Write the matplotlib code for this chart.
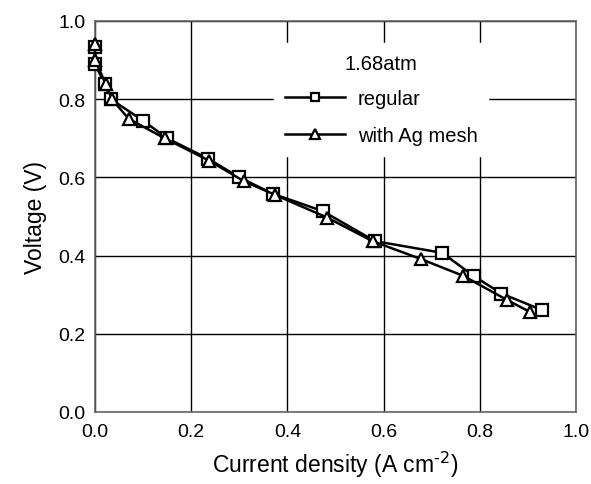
import numpy as np
import matplotlib.pyplot as plt

plt.rcParams['font.family'] = ['Liberation Sans', 'DejaVu Sans']

# regular
x_reg = [0.0, 0.0, 0.02, 0.033, 0.1, 0.15, 0.235, 0.30, 0.37, 0.473, 0.582, 0.722, 0.787, 0.845, 0.929]
y_reg = [0.934, 0.89, 0.84, 0.80, 0.745, 0.70, 0.648, 0.60, 0.558, 0.514, 0.437, 0.407, 0.348, 0.303, 0.261]

# with Ag mesh
x_ag = [0.0, 0.0, 0.022, 0.035, 0.07, 0.145, 0.237, 0.31, 0.375, 0.483, 0.577, 0.678, 0.766, 0.856, 0.904]
y_ag = [0.942, 0.90, 0.84, 0.80, 0.75, 0.70, 0.643, 0.59, 0.555, 0.497, 0.437, 0.391, 0.348, 0.287, 0.256]

ticks = [0.0, 0.2, 0.4, 0.6, 0.8, 1.0]

fig = plt.figure(figsize=(5.91, 4.85), dpi=100)
ax = fig.add_axes([95/591, (485-413)/485, 481/591, 391/485])

ax.plot(x_reg, y_reg, color='black', lw=1.8, marker='s', ms=8, mfc='white', mec='black', mew=1.6,
        label='regular', clip_on=False, zorder=3)
ax.plot(x_ag, y_ag, color='black', lw=1.8, marker='^', ms=9, mfc='white', mec='black', mew=1.6,
        label='with Ag mesh', clip_on=False, zorder=3)

ax.set_xlim(0, 1.0)
ax.set_ylim(0, 1.0)
ax.set_xticks(ticks)
ax.set_yticks(ticks)
ax.set_xticklabels(['%.1f' % v for v in ticks])
ax.set_yticklabels(['%.1f' % v for v in ticks])
ax.grid(True, color='black', lw=1.0)
ax.set_axisbelow(True)
ax.tick_params(length=0, labelsize=14)
ax.tick_params(axis='x', pad=8)
ax.tick_params(axis='y', pad=7)
for s in ax.spines.values():
    s.set_linewidth(1.2)
    s.set_color('#666666')

ax.set_xlabel(r'Current density (A cm$^{\text{-}2}$)', fontsize=16.5, labelpad=6)
ax.set_ylabel('Voltage (V)', fontsize=16.5, labelpad=8)

leg = ax.legend(title='1.68atm', loc='center', bbox_to_anchor=(0.595, 0.80),
                frameon=True, fontsize=14.5, title_fontsize=14.5, handlelength=3.0,
                handletextpad=0.6, labelspacing=0.85, markerscale=0.8, borderpad=0.55)
leg.get_frame().set_facecolor('white')
leg.get_frame().set_edgecolor('white')
leg.get_frame().set_alpha(1)
leg.get_frame().set_boxstyle('square', pad=0)
leg._legend_box.sep = 12

fig.savefig('out.png', dpi=100)
